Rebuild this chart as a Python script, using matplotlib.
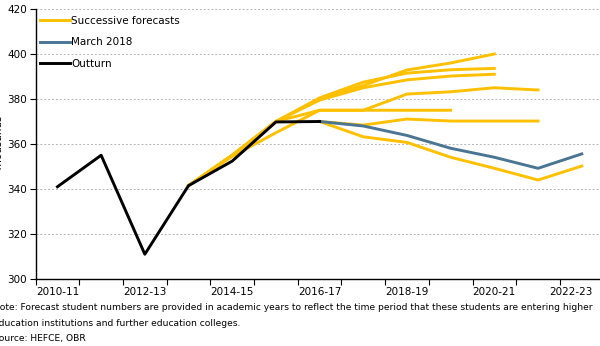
import numpy as np
import matplotlib
matplotlib.use("Agg")
import matplotlib.pyplot as plt
from matplotlib.ticker import FixedLocator, NullFormatter, FixedFormatter

years = ["2010-11", "2011-12", "2012-13", "2013-14", "2014-15", "2015-16", "2016-17",
         "2017-18", "2018-19", "2019-20", "2020-21", "2021-22", "2022-23"]
n = np.nan

outturn = [341.0, 355.0, 311.0, 341.5, 352.4, 369.8, 370.0, n, n, n, n, n, n]
march_2018 = [n, n, n, n, n, n, 370.0, 368.0, 363.8, 358.1, 354.1, 349.2, 355.6]

# successive forecast vintages (thousands of students)
fc_a = [n, n, n, 341.5, 355.0, 370.0, 380.0, 386.0, 392.9, 396.0, 400.0, n, n]
fc_b = [n, n, n, 341.5, 355.0, 370.0, 380.5, 387.5, 391.5, 393.0, 393.6, n, n]
fc_c = [n, n, n, 341.5, 355.0, 370.0, 379.5, 385.0, 388.5, 390.2, 391.0, n, n]
fc_d = [n, n, n, 341.5, 354.5, 365.0, 375.0, 375.0, 382.2, 383.2, 385.0, 384.0, n]
fc_e = [n, n, n, 341.5, 355.0, 370.0, 375.0, 375.0, 375.0, 375.0, n, n, n]
fc_f = [n, n, n, n, n, n, 370.0, 368.4, 371.1, 370.2, 370.2, 370.2, n]
fc_g = [n, n, n, n, n, n, 370.0, 363.2, 360.7, 354.1, 349.2, 344.0, 350.2]
forecasts = [fc_a, fc_b, fc_c, fc_d, fc_e, fc_f, fc_g]

yellow = "#FFC000"
blue = "#4A7593"

plt.rcParams["font.family"] = ["DejaVu Sans"]

fig = plt.figure(figsize=(6.0, 3.46), dpi=100)
ax = fig.add_axes([35.6 / 600, 67 / 346, 568 / 600, 270 / 346])

x = np.arange(len(years))
for i, fc in enumerate(forecasts):
    ax.plot(x, fc, color=yellow, lw=2.1,
            label="Successive forecasts" if i == 0 else None, zorder=2)
ax.plot(x, march_2018, color=blue, lw=2.1, label="March 2018", zorder=3)
ax.plot(x, outturn, color="black", lw=2.1, label="Outturn", zorder=4)

ax.set_xlim(-0.5, len(years) - 0.5)
ax.set_ylim(300, 420)

# y axis
ax.set_yticks(np.arange(300, 421, 20))
ax.tick_params(axis="y", direction="out", length=4, width=0.8, pad=2,
               labelsize=7.5, colors="black")
ax.yaxis.grid(True, color="#B4B4B4", lw=0.7, linestyle=(0, (2, 2)))
ax.set_axisbelow(True)

# x axis: tick marks on the category boundaries, labels every other year
# (last label nudged left so it stays inside the figure)
label_pos = [float(v) for v in x[::2]]
label_pos[-1] -= 0.25
ax.xaxis.set_major_locator(FixedLocator(np.arange(-0.5, len(years), 1.0)))
ax.xaxis.set_major_formatter(NullFormatter())
ax.xaxis.set_minor_locator(FixedLocator(label_pos))
ax.xaxis.set_minor_formatter(FixedFormatter(years[::2]))
ax.tick_params(axis="x", which="major", direction="out", length=4, width=0.8)
ax.tick_params(axis="x", which="minor", length=0, pad=6, labelsize=7.5)

for side in ("top", "right"):
    ax.spines[side].set_visible(False)
for side in ("left", "bottom"):
    ax.spines[side].set_color("black")
    ax.spines[side].set_linewidth(1.0)

fig.text(-1 / 600, (346 - 144) / 346, "Thousands", rotation=90,
         ha="center", va="center", fontsize=7.5)

ax.legend(loc="upper left", bbox_to_anchor=(4.4 / 568, 0.975), frameon=False,
          fontsize=7.5, handlelength=2.9, handletextpad=0.12,
          labelspacing=1.1, borderaxespad=0.0, borderpad=0.0)

note_kw = dict(fontsize=6.6, va="center", ha="left")
fig.text(-0.011, 38 / 346,
         "Note: Forecast student numbers are provided in academic years to reflect "
         "the time period that these students are entering higher", **note_kw)
fig.text(-0.011, 23 / 346,
         "education institutions and further education colleges.", **note_kw)
fig.text(-0.011, 8 / 346, "Source: HEFCE, OBR", **note_kw)

fig.savefig("out.png", dpi=100)
